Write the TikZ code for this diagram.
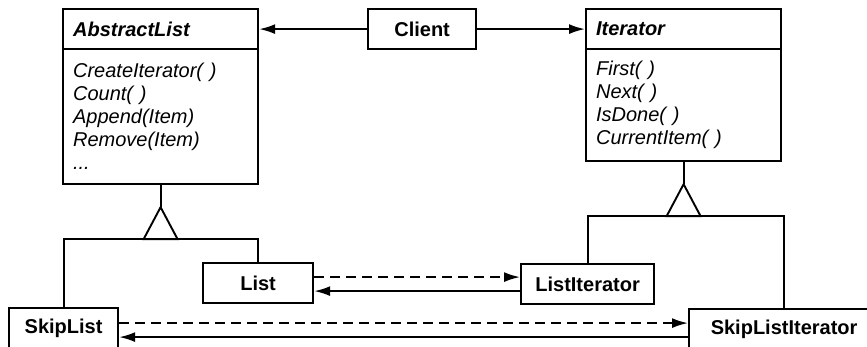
\documentclass[tikz,border=0pt]{standalone}
\usepackage{fontspec}
\setmainfont{Liberation Sans}
\usetikzlibrary{arrows.meta,positioning}
\tikzset{
  classbox/.style={draw,line width=2.2pt,anchor=north west,inner xsep=10pt,inner ysep=0pt,
    font=\fontsize{20}{23}\selectfont},
  classhead/.style={classbox,minimum height=40pt,text width=#1,align=left,
    font=\fontsize{20}{23}\selectfont\bfseries\itshape},
  classbody/.style={classbox,text width=#1,align=left,
    font=\fontsize{20}{23}\selectfont\itshape},
  plainclass/.style={classbox,minimum height=40pt,minimum width=#1,align=center,
    font=\fontsize{20}{23}\selectfont\bfseries},
  conn/.style={line width=1.9pt},
  assoc/.style={conn,-{Latex[length=16pt,width=10pt]}},
  dep/.style={assoc,dash pattern=on 10pt off 6pt}
}

\begin{document}
\begin{tikzpicture}[x=1pt,y=-1pt]
  \useasboundingbox (0,0) rectangle (867,347);
  % Aggregate
  \node[classhead=175pt] (alhead) at (62,8) {AbstractList};
  \node[classbody=175pt,minimum height=135pt] (albody) at (62,48)
    {CreateIterator( )\\Count( )\\Append(Item)\\Remove(Item)\\...};
  % Client
  \node[plainclass=108pt] (client) at (367,8) {Client};
  % Iterator
  \node[classhead=175pt] (ithead) at (585,8) {Iterator};
  \node[classbody=175pt,minimum height=112pt] (itbody) at (585,48)
    {First( )\\Next( )\\IsDone( )\\CurrentItem( )};
  % Concrete classes
  \node[plainclass=110pt] (list) at (202,262) {List};
  \node[plainclass=133pt] (listit) at (520,263) {ListIterator};
  \node[plainclass=109pt] (skiplist) at (8,307) {SkipList};
  \node[plainclass=190pt] (skiplistit) at (688,308) {SkipListIterator};
  % Client associations
  \draw[assoc] (client) -- (alhead);
  \draw[assoc] (client) -- (ithead);
  % Inheritance, list side
  \draw[conn] (albody.south) -- ++(0,22) coordinate (alapex);
  \draw[conn] (alapex) -- ++(-17,32) coordinate (albase) -- ++(34,0) -- cycle;
  \draw[conn] (skiplist.north) |- (albase) -| (list.north);
  % Inheritance, iterator side
  \draw[conn] (itbody.south) -- ++(0,22) coordinate (itapex);
  \draw[conn] (itapex) -- ++(-17,32) coordinate (itbase) -- ++(34,0) -- cycle;
  \draw[conn] (listit.north) |- (itbase) -| (skiplistit.north);
  % Create and traverse
  \draw[dep] ([yshift=6pt]list.east) -- ([yshift=6pt]list.east -| listit.west);
  \draw[assoc] ([yshift=-7pt]listit.west) -- ([yshift=-7pt]listit.west -| list.east);
  \draw[dep] ([yshift=5pt]skiplist.east) -- ([yshift=5pt]skiplist.east -| skiplistit.west);
  \draw[assoc] ([yshift=-8pt]skiplistit.west) -- ([yshift=-8pt]skiplistit.west -| skiplist.east);
\end{tikzpicture}
\end{document}
